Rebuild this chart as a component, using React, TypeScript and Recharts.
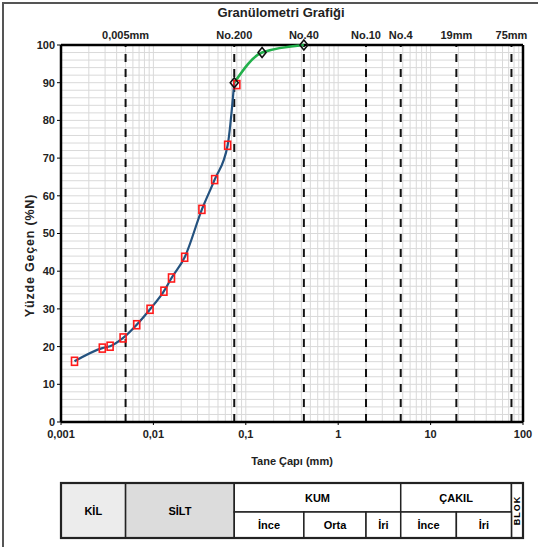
import {
  ComposedChart,
  Line,
  XAxis,
  YAxis,
  ReferenceLine,
} from "recharts";

// hydrometer / sieve results (mm, % passing)
const sampleSize = [0.0014, 0.0028, 0.0034, 0.0047, 0.0066, 0.0092, 0.013, 0.0157, 0.0218, 0.0335, 0.046, 0.0636, 0.08];
const samplePass = [16.1, 19.6, 20.1, 22.3, 25.8, 29.9, 34.7, 38.2, 43.7, 56.4, 64.3, 73.4, 89.5];
const sieveSize = [0.075, 0.15, 0.425];
const sievePass = [90, 98, 100];

const xTicks = [0.001, 0.01, 0.1, 1, 10, 100];
const yTicks = [0, 10, 20, 30, 40, 50, 60, 70, 80, 90, 100];

const boundarySizes = [0.005, 0.075, 0.425, 2, 4.75, 19, 75];
const boundaryLabels = ["0,005mm", "No.200", "No.40", "No.10", "No.4", "19mm", "75mm"];

// soil classes for the strip under the chart
const mainClasses = [
  { name: "KİL", from: 0.001, to: 0.005, full: true, fill: "#ececec" },
  { name: "SİLT", from: 0.005, to: 0.075, full: true, fill: "#dcdcdc" },
  { name: "KUM", from: 0.075, to: 4.75, full: false, fill: "#fff" },
  { name: "ÇAKIL", from: 4.75, to: 75, full: false, fill: "#fff" },
  { name: "BLOK", from: 75, to: 100, full: true, fill: "#fff" },
];
const subClasses = [
  { name: "İnce", from: 0.075, to: 0.425 },
  { name: "Orta", from: 0.425, to: 2 },
  { name: "İri", from: 2, to: 4.75 },
  { name: "İnce", from: 4.75, to: 19 },
  { name: "İri", from: 19, to: 75 },
];

const W = 538;
const H = 480;
const M = { top: 45, right: 15, bottom: 28, left: 0 };
const Y_W = 61;
const PLOT_L = M.left + Y_W;
const PLOT_W = W - PLOT_L - M.right;
const FONT = "'Liberation Sans Narrow', 'Arial Narrow', 'Liberation Sans', Arial, sans-serif";
const GRID = "#d9d9d9";

const samples = sampleSize.map((d, i) => ({ d, p: samplePass[i] }));
const sieves = sieveSize.map((d, i) => ({ d, p: sievePass[i] }));
const hydroCurve = samples.slice(0, 12).concat(sieves[0]);

// log grid: 1..9 in each decade, horizontal every 2 %
const minorX: number[] = [];
[0.001, 0.01, 0.1, 1, 10].forEach((dec) => {
  for (let k = 1; k < 10; k++) minorX.push(+(dec * k).toPrecision(3));
});
const minorY: number[] = [];
for (let v = 2; v < 100; v += 2) minorY.push(v);

const xPos = (v: number) => PLOT_L + ((Math.log10(v) + 3) / 5) * PLOT_W;

const RedSquare = (props: any) => {
  const { cx, cy } = props;
  if (cx == null || cy == null) return null;
  return <rect x={cx - 3} y={cy - 4} width={6} height={8} fill="none" stroke="#ff1a1a" strokeWidth={1.6} />;
};

const Diamond = (props: any) => {
  const { cx, cy } = props;
  if (cx == null || cy == null) return null;
  return (
    <path
      d={`M${cx},${cy - 5} L${cx + 4},${cy} L${cx},${cy + 5} L${cx - 4},${cy} Z`}
      fill="none"
      stroke="#111"
      strokeWidth={1.6}
    />
  );
};

function ClassTable() {
  const top = 483;
  const mid = 512;
  const bot = 538;
  return (
    <svg width={W} height={547} style={{ position: "absolute", left: 0, top: 0 }}>
      {mainClasses.map((c, i) => {
        const x1 = xPos(c.from);
        const x2 = xPos(c.to);
        const y2 = c.full ? bot : mid;
        const cx = (x1 + x2) / 2;
        const cy = (top + y2) / 2;
        return (
          <g key={i}>
            <rect x={x1} y={top} width={x2 - x1} height={y2 - top} fill={c.fill} stroke="#222" strokeWidth={1.5} />
            {c.name === "BLOK" ? (
              <text
                x={cx}
                y={cy}
                transform={`rotate(-90, ${cx}, ${cy})`}
                textAnchor="middle"
                dominantBaseline="central"
                fontSize={9}
                fontWeight="bold"
                letterSpacing={1}
                fontFamily="'Liberation Sans', Arial, sans-serif"
              >
                {c.name}
              </text>
            ) : (
              <text x={cx} y={cy} textAnchor="middle" dominantBaseline="central" fontSize={11} fontWeight="bold" fontFamily={FONT}>
                {c.name}
              </text>
            )}
          </g>
        );
      })}
      {subClasses.map((c, i) => {
        const x1 = xPos(c.from);
        const x2 = xPos(c.to);
        return (
          <g key={i}>
            <rect x={x1} y={mid} width={x2 - x1} height={bot - mid} fill="#fff" stroke="#222" strokeWidth={1.5} />
            <text x={(x1 + x2) / 2} y={(mid + bot) / 2} textAnchor="middle" dominantBaseline="central" fontSize={11} fontWeight="bold" fontFamily={FONT}>
              {c.name}
            </text>
          </g>
        );
      })}
      <rect x={xPos(0.001)} y={top} width={PLOT_W} height={bot - top} fill="none" stroke="#222" strokeWidth={2.2} />
    </svg>
  );
}

export default function App() {
  return (
    <div style={{ position: "absolute", left: 0, top: 0, width: W, height: 547, background: "#fff", fontFamily: FONT, overflow: "hidden" }}>
      <div style={{ position: "absolute", left: 2, top: 2, width: 560, height: 560, borderTop: "2px solid #555", borderLeft: "2px solid #555" }} />
      <div style={{ position: "absolute", left: 0, top: 5, width: W + 24, textAlign: "center", fontSize: 13, fontWeight: "bold", color: "#222" }}>
        Granülometri Grafiği
      </div>
      <div style={{ position: "absolute", left: 0, top: 0 }}>
        <ComposedChart width={W} height={H} margin={M}>
          {minorY.map((v) => (
            <ReferenceLine key={"gy" + v} y={v} stroke={GRID} strokeWidth={1} />
          ))}
          {minorX.map((v) => (
            <ReferenceLine key={"gx" + v} x={v} stroke={GRID} strokeWidth={1} />
          ))}
          <XAxis
            dataKey="d"
            type="number"
            scale="log"
            domain={[0.001, 100]}
            ticks={xTicks}
            allowDataOverflow
            height={30}
            axisLine={{ stroke: "#000", strokeWidth: 2.5 }}
            tickLine={{ stroke: "#000" }}
            tickSize={3}
            tickMargin={5}
            tick={{ fontSize: 11, fill: "#222", fontWeight: "bold", fontFamily: FONT }}
            tickFormatter={(v) => String(v).replace(".", ",")}
            label={{ value: "Tane Çapı (mm)", position: "bottom", offset: 5, fontSize: 11, fill: "#222", fontWeight: "bold", fontFamily: FONT }}
          />
          <YAxis
            type="number"
            domain={[0, 100]}
            ticks={yTicks}
            width={Y_W}
            axisLine={{ stroke: "#000", strokeWidth: 2.5 }}
            tickLine={{ stroke: "#000" }}
            tickSize={4}
            tick={{ fontSize: 11, fill: "#222", fontWeight: "bold", fontFamily: FONT }}
            label={{ value: "Yüzde Geçen (%N)", angle: -90, position: "center", dx: -1, dy: 22, fontSize: 12.5, letterSpacing: 0.8, fill: "#222", fontWeight: "bold", fontFamily: FONT }}
          />
          {boundarySizes.map((b, i) => (
            <ReferenceLine
              key={b}
              x={b}
              stroke="#111"
              strokeWidth={2}
              strokeDasharray="8 7"
              label={{ value: boundaryLabels[i], position: "top", offset: 6, fontSize: 11, fill: "#222", fontWeight: "bold", fontFamily: FONT }}
            />
          ))}
          <ReferenceLine y={100} stroke="#000" strokeWidth={2.5} />
          <ReferenceLine x={100} stroke="#000" strokeWidth={2.5} />
          <Line
            data={hydroCurve}
            dataKey="p"
            type="monotone"
            stroke="#24527f"
            strokeWidth={2.2}
            dot={false}
            isAnimationActive={false}
          />
          <Line
            data={samples}
            dataKey="p"
            stroke="none"
            dot={<RedSquare />}
            isAnimationActive={false}
          />
          <Line
            data={sieves}
            dataKey="p"
            type="monotone"
            stroke="#22b04b"
            strokeWidth={2.6}
            dot={<Diamond />}
            isAnimationActive={false}
          />
        </ComposedChart>
      </div>
      <ClassTable />
    </div>
  );
}
